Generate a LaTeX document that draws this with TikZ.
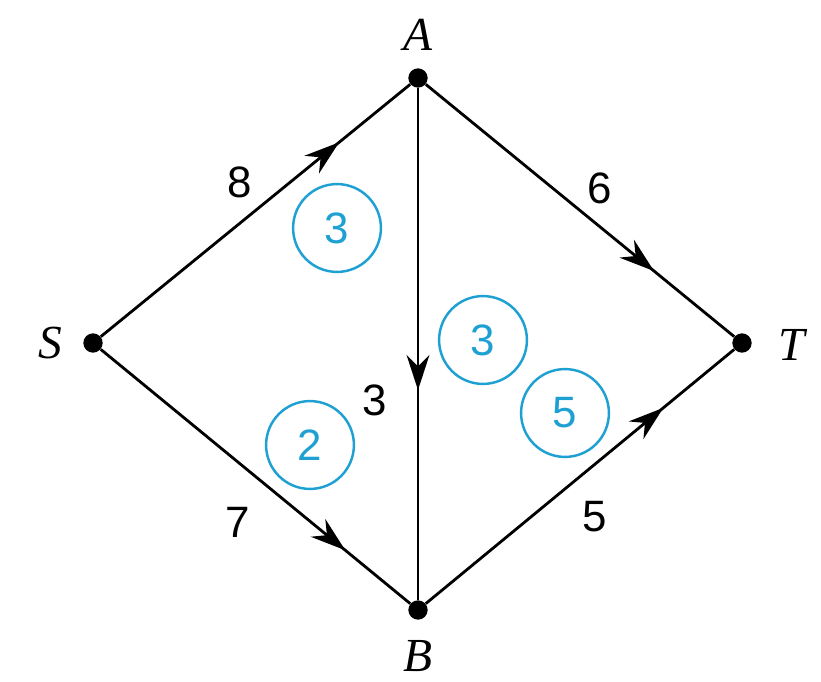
\documentclass[tikz,border=0pt]{standalone}
\usepackage{fontspec}
\setmainfont{Liberation Serif}
\newfontfamily\numfont{Liberation Sans}
\usetikzlibrary{decorations.markings,arrows.meta}
\definecolor{cc}{RGB}{30,160,210}
\begin{document}
\begin{tikzpicture}[x=0.02cm,y=-0.02cm,
  edge/.style={line width=1.6pt,postaction={decorate},decoration={markings,mark=at position #1 with {\arrow{Stealth[length=20pt,width=13pt]}}}},
  vtx/.style={circle,fill=black,inner sep=0pt,minimum size=11pt},
  lab/.style={font=\fontsize{27}{30}\selectfont\itshape},
  num/.style={font=\fontsize{25}{28}\selectfont\numfont},
  cnum/.style={circle,draw=cc,line width=1.4pt,minimum size=50pt,inner sep=0pt,text=cc,font=\fontsize{25}{28}\selectfont\numfont}]
\useasboundingbox (0,0) rectangle (821,682);
\node[vtx] (S) at (93,343) {};
\node[vtx] (A) at (418,78) {};
\node[vtx] (B) at (418,610) {};
\node[vtx] (T) at (742,343) {};
\node[lab] (lA) at (418,35) {A};
\node[lab] (lB) at (418,656) {B};
\node[lab] (lS) at (50,343) {S};
\node[lab] (lT) at (792,345) {T};
\draw[edge=0.77] (S) -- (A);
\draw[edge=0.79] (S) -- (B);
\draw[edge=0.59] (A) -- (B);
\draw[edge=0.74] (A) -- (T);
\draw[edge=0.77] (B) -- (T);
\node[num] (n8) at (240,182) {8};
\node[num] (n6) at (600,188) {6};
\node[num] (n3) at (375,400) {3};
\node[num] (n7) at (238,522) {7};
\node[num] (n5) at (595,517) {5};
\node[cnum] (c1) at (337,228) {3};
\node[cnum] (c2) at (483,340) {3};
\node[cnum] (c3) at (310,445) {2};
\node[cnum] (c4) at (565,413) {5};
\end{tikzpicture}
\end{document}
